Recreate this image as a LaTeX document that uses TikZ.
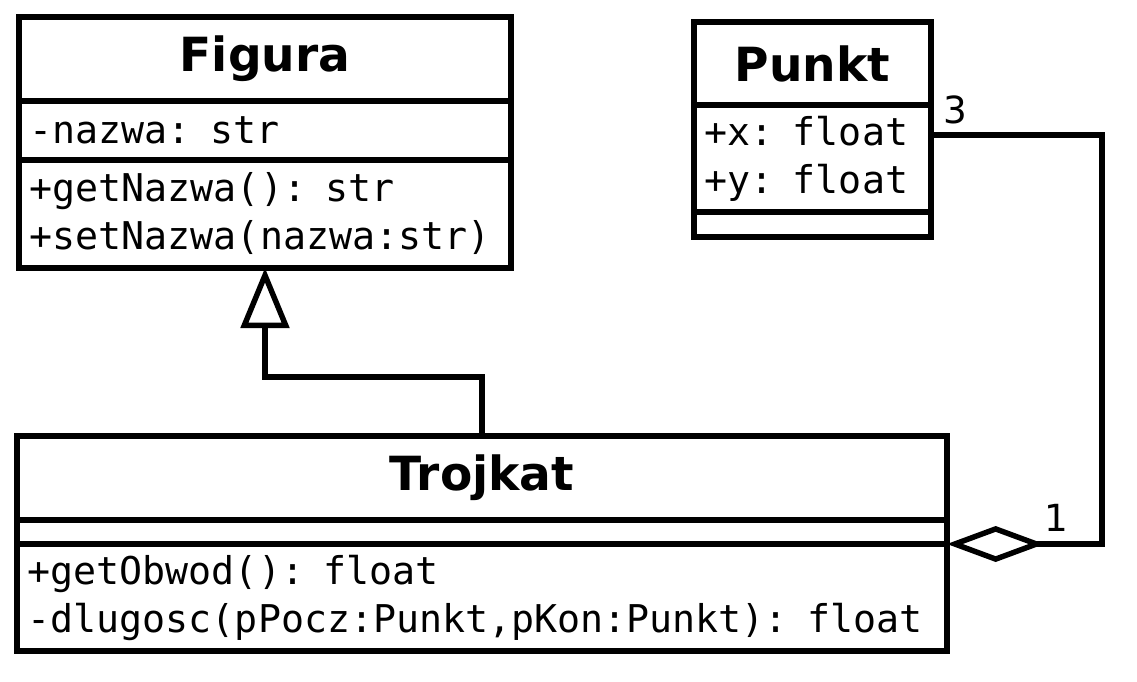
\documentclass[tikz,border=0pt]{standalone}
\usepackage{fontspec}
\setmainfont{DejaVu Sans}
\setmonofont{DejaVu Sans Mono}
\usetikzlibrary{positioning,arrows.meta,calc}

\newcommand{\titlefont}{\fontsize{35.3}{40}\selectfont\bfseries}
\newcommand{\bodyfont}{\fontsize{28.7}{36}\selectfont\ttfamily}

\tikzset{
	cls/.style={draw, line width=4.1pt, outer sep=0pt, inner xsep=8pt, inner ysep=0pt, anchor=north},
	ctitle/.style={cls, font=\titlefont, align=center},
	cbody/.style={cls, font=\bodyfont, align=left},
	mult/.style={font=\fontsize{28}{34}\selectfont},
	link/.style={line width=4.1pt},
}

\begin{document}
\begin{tikzpicture}[x=0.75pt,y=-0.75pt]
			\useasboundingbox (0,0) rectangle (1137,681);
			\node[ctitle, anchor=north west, text width=353pt, minimum height=63pt] (figura) at (19,17) {Figura};
			\node[cbody, text width=353pt, minimum height=44.25pt] (figura_a) [below=0pt of figura] {-nazwa: str};
			\node[cbody, text width=353pt, minimum height=81pt] (figura_m) [below=0pt of figura_a] {+getNazwa(): str\\+setNazwa(nazwa:str)};
			\node[ctitle, anchor=north west, text width=161.75pt, minimum height=62.25pt] (punkt) at (694,22) {Punkt};
			\node[cbody, text width=161.75pt, minimum height=80.25pt] (punkt_a) [below=0pt of punkt] {+x: float\\+y: float};
			\node[cbody, text width=161.75pt, minimum height=18.75pt] (punkt_m) [below=0pt of punkt_a] {};
			\node[ctitle, anchor=north west, text width=681.5pt, minimum height=63pt] (trojkat) at (17,436) {Trojkat};
			\node[cbody, text width=681.5pt, minimum height=18pt] (trojkat_a) [below=0pt of trojkat] {};
			\node[cbody, text width=681.5pt, minimum height=80.25pt] (trojkat_m) [below=0pt of trojkat_a] {+getObwod(): float\\-dlugosc(pPocz:Punkt,pKon:Punkt): float};
			\coordinate (punkt_x) at ($(punkt_a.north east)+(0,30)$);
			\coordinate (bend) at ($(punkt_x)+(171,0)$);
			\draw[link, -{Triangle[open, length=45pt, width=36pt]}] (trojkat.north) -- ++(0,-59) -| (figura_m.south);
			\draw[link, {Diamond[open, length=73pt, width=27pt]}-] (trojkat_m.north east) -| (bend) -- (punkt_x);
			\node[mult] (m_punkt) at ($(punkt_x)+(24,-25)$) {3};
			\node[mult] (m_trojkat) at (1056,518) {1};
		\end{tikzpicture}
\end{document}
